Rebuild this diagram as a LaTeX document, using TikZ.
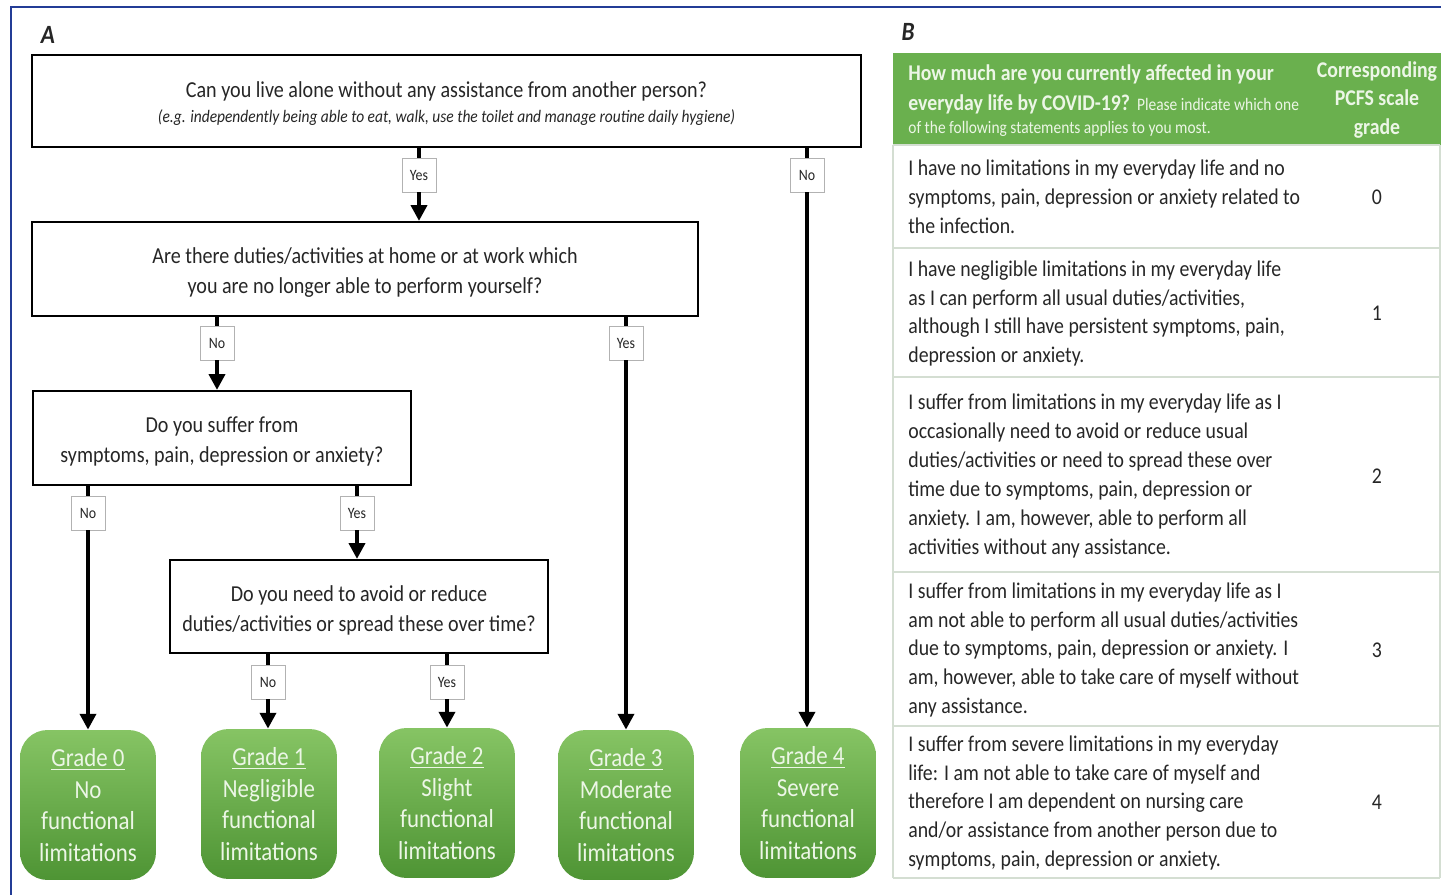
\documentclass[tikz,border=0pt]{standalone}
\usepackage{fontspec}
\setmainfont[FakeStretch=0.88]{Carlito}
\usetikzlibrary{arrows.meta}
\definecolor{frameblue}{RGB}{35,60,150}
\definecolor{gradetop}{RGB}{134,196,100}
\definecolor{gradebot}{RGB}{78,148,52}
\definecolor{headgreen}{RGB}{106,176,78}
\definecolor{rowline}{RGB}{212,222,210}
\definecolor{txtgrey}{RGB}{38,38,38}
\definecolor{gradetxt}{RGB}{236,246,230}
\newcommand{\qsize}{\fontsize{13}{17}\selectfont}
\newcommand{\esize}{\fontsize{10}{14}\selectfont}
\newcommand{\asize}{\fontsize{9}{11}\selectfont}
\newcommand{\gsize}{\fontsize{14.8}{18.1}\selectfont}
\newcommand{\tsize}{\fontsize{12.8}{16.4}\selectfont}
\newcommand{\headsize}{\fontsize{12.8}{16.4}\selectfont}
\newcommand{\ssize}{\fontsize{10}{12}\selectfont}

\begin{document}
\begin{tikzpicture}[x=0.02cm,y=-0.02cm,
  question/.style={draw=black, line width=1.2pt, fill=white, align=center, text=txtgrey, font=\qsize, inner sep=0pt},
  answer/.style={draw=black!30, line width=0.5pt, fill=white, font=\asize, minimum width=0.68cm, minimum height=0.68cm, inner sep=1pt, text=txtgrey},
  grade/.style={rounded corners=0.55cm, top color=gradetop, bottom color=gradebot, minimum width=2.72cm, minimum height=3cm, align=center, text=gradetxt, font=\gsize, inner sep=0pt},
  link/.style={line width=2.5pt},
  arr/.style={link, -{Triangle[length=9pt,width=9pt]}},
  rowtext/.style={align=left, font=\tsize, text=txtgrey, inner sep=0pt},
  headtext/.style={text=gradetxt, inner sep=0pt},
]
	\useasboundingbox (0,0) rectangle (1441,895);
	\draw[frameblue, line width=1.4pt] (11,900) -- (11,7) -- (1445,7);
	\node[font=\fontsize{15}{18}\selectfont\bfseries\itshape, text=txtgrey] (pa) at (48,35) {A};
	\node[font=\fontsize{15}{18}\selectfont\bfseries\itshape, text=txtgrey] (pb) at (908,32) {B};

	% flowchart questions
	\node[question, minimum width=16.58cm, minimum height=1.84cm] (q1) at (446.5,101) {\rule{0pt}{12pt}Can you live alone without any assistance from another person?\\[-3.3pt]{\esize\itshape (e.g. independently being able to eat, walk, use the toilet and manage routine daily hygiene)}};
	\node[question, minimum width=13.32cm, minimum height=1.88cm] (q2) at (365,269) {\rule{0pt}{13pt}Are there duties/activities at home or at work which\\you are no longer able to perform yourself?};
	\node[question, minimum width=7.56cm, minimum height=1.88cm] (q3) at (222,438) {\rule{0pt}{13pt}Do you suffer from\\symptoms, pain, depression or anxiety?};
	\node[question, minimum width=7.56cm, minimum height=1.86cm] (q4) at (359,606.5) {\rule{0pt}{13pt}Do you need to avoid or reduce\\duties/activities or spread these over time?};

	% outcomes
	\node[grade] (g0) at (88,805) {\underline{Grade 0}\\No\\functional\\limitations};
	\node[grade] (g1) at (269,804) {\underline{Grade 1}\\Negligible\\functional\\limitations};
	\node[grade] (g2) at (447,803) {\underline{Grade 2}\\Slight\\functional\\limitations};
	\node[grade] (g3) at (626,805) {\underline{Grade 3}\\Moderate\\functional\\limitations};
	\node[grade] (g4) at (808,803) {\underline{Grade 4}\\Severe\\functional\\limitations};

	% answers
	\node[answer] (a1) at (419,175) {Yes};
	\node[answer] (a2) at (807,175) {No};
	\node[answer] (a3) at (217,343) {No};
	\node[answer] (a4) at (626,343) {Yes};
	\node[answer] (a5) at (88,513) {No};
	\node[answer] (a6) at (357,513) {Yes};
	\node[answer] (a7) at (268,682) {No};
	\node[answer] (a8) at (447,682) {Yes};

	\draw[link] (a1 |- q1.south) -- (a1.north);
	\draw[arr] (a1.south) -- (a1 |- q2.north);
	\draw[link] (a2 |- q1.south) -- (a2.north);
	\draw[arr] (a2.south) -- (a2 |- g4.north);
	\draw[link] (a3 |- q2.south) -- (a3.north);
	\draw[arr] (a3.south) -- (a3 |- q3.north);
	\draw[link] (a4 |- q2.south) -- (a4.north);
	\draw[arr] (a4.south) -- (a4 |- g3.north);
	\draw[link] (a5 |- q3.south) -- (a5.north);
	\draw[arr] (a5.south) -- (a5 |- g0.north);
	\draw[link] (a6 |- q3.south) -- (a6.north);
	\draw[arr] (a6.south) -- (a6 |- q4.north);
	\draw[link] (a7 |- q4.south) -- (a7.north);
	\draw[arr] (a7.south) -- (a7 |- g1.north);
	\draw[link] (a8 |- q4.south) -- (a8.north);
	\draw[arr] (a8.south) -- (a8 |- g2.north);

	% table B
	\fill[headgreen] (893,53) rectangle (1441,145);
	\foreach \yy in {145,248,377,572,726,878}
		\draw[rowline, line width=0.8pt] (893,\yy) -- (1440,\yy);
	\draw[rowline, line width=0.8pt] (893,145) -- (893,878);
	\draw[rowline, line width=0.8pt] (1440,145) -- (1440,878);
	\node[headtext, anchor=base west, font=\headsize\bfseries] (h1) at (908,81) {How much are you currently affected in your};
	\node[headtext, anchor=base west] (h2) at (908,111) {{\headsize\bfseries everyday life by COVID-19?}\ \ {\ssize Please indicate which one}};
	\node[headtext, anchor=base west, font=\ssize] (h3) at (908,134) {of the following statements applies to you most.};
	\node[headtext, align=center, font=\headsize\bfseries] (h4) at (1377,100) {Corresponding\\PCFS scale\\grade};

	\node[rowtext, anchor=west] (r0) at (908,197) {I have no limitations in my everyday life and no\\symptoms, pain, depression or anxiety related to\\the infection.};
	\node[rowtext, anchor=west] (r1) at (908,313.5) {I have negligible limitations in my everyday life\\as I can perform all usual duties/activities,\\although I still have persistent symptoms, pain,\\depression or anxiety.};
	\node[rowtext, anchor=west] (r2) at (908,476) {I suffer from limitations in my everyday life as I\\occasionally need to avoid or reduce usual\\duties/activities or need to spread these over\\time due to symptoms, pain, depression or\\anxiety. I am, however, able to perform all\\activities without any assistance.};
	\node[rowtext, anchor=west] (r3) at (908,650) {I suffer from limitations in my everyday life as I\\am not able to perform all usual duties/activities\\due to symptoms, pain, depression or anxiety. I\\am, however, able to take care of myself without\\any assistance.};
	\node[rowtext, anchor=west] (r4) at (908,803) {I suffer from severe limitations in my everyday\\life: I am not able to take care of myself and\\therefore I am dependent on nursing care\\and/or assistance from another person due to\\symptoms, pain, depression or anxiety.};
	\node[rowtext] (n0) at (1377,197) {0};
	\node[rowtext] (n1) at (1377,313.5) {1};
	\node[rowtext] (n2) at (1377,476) {2};
	\node[rowtext] (n3) at (1377,650) {3};
	\node[rowtext] (n4) at (1377,802) {4};
\end{tikzpicture}
\end{document}
